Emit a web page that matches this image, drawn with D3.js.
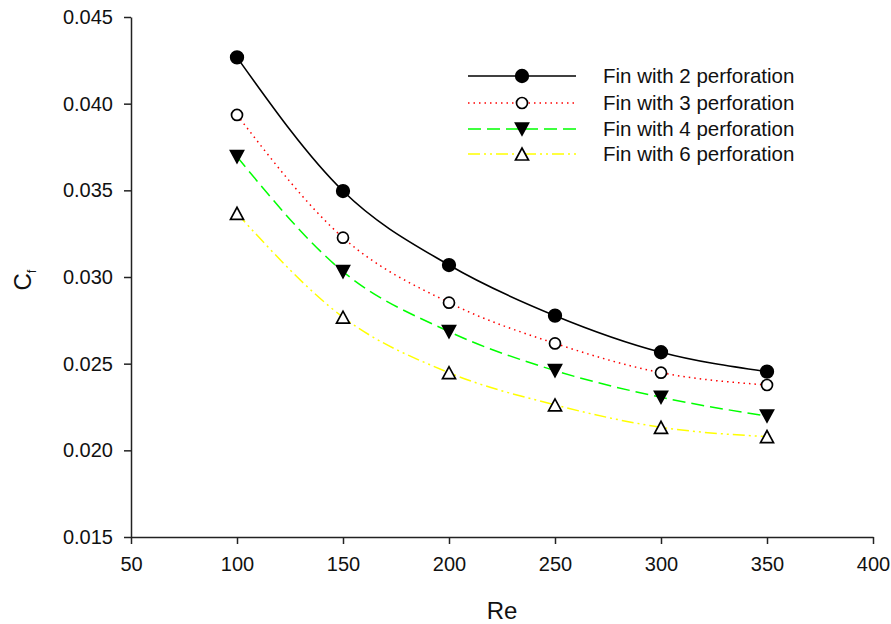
<!DOCTYPE html>
<html>
<head>
<meta charset="utf-8">
<script src="https://cdn.jsdelivr.net/npm/d3@7"></script>
<style>
  body { margin: 0; background: #fff; }
  svg { font-family: Arial, "Liberation Sans", sans-serif; }
</style>
</head>
<body>
<div id="chart"></div>
<script>
// data
var reValues = [100, 150, 200, 250, 300, 350];
var fin2 = [0.04267, 0.03496, 0.03069, 0.02777, 0.02566, 0.02454];
var fin3 = [0.03935, 0.03227, 0.02852, 0.02617, 0.02448, 0.02377];
var fin4 = [0.03694, 0.03031, 0.02685, 0.02460, 0.02306, 0.02198];
var fin6 = [0.03367, 0.02768, 0.02448, 0.02262, 0.02133, 0.02079];
var seriesNames = ["Fin with 2 perforation", "Fin with 3 perforation",
  "Fin with 4 perforation", "Fin with 6 perforation"];
var xTicks = [50, 100, 150, 200, 250, 300, 350, 400];
var yTicks = [0.015, 0.020, 0.025, 0.030, 0.035, 0.040, 0.045];

var width = 891, height = 624;
var margin = { top: 17, right: 18, bottom: 87, left: 131 };

// style for each series: line colour, dash, marker
var styles = [
  { color: "#000000", dash: null, marker: "circle", fill: "#000" },
  { color: "#ff0000", dash: "1.5,4", marker: "circle", fill: "#fff" },
  { color: "#00ff00", dash: "13,6", marker: "down", fill: "#000" },
  { color: "#ffff00", dash: "12,4,2,4,2,4", marker: "up", fill: "#fff" }
];

var allSeries = [fin2, fin3, fin4, fin6].map(function(vals, i) {
  return {
    name: seriesNames[i],
    style: styles[i],
    points: vals.map(function(v, j) { return { x: reValues[j], y: v }; })
  };
});

var svg = d3.select("#chart").append("svg")
  .attr("width", width)
  .attr("height", height);

var x = d3.scaleLinear().domain([50, 400]).range([margin.left, width - margin.right]);
var y = d3.scaleLinear().domain([0.015, 0.045]).range([height - margin.bottom, margin.top]);

// axes
var xAxis = svg.append("g")
  .attr("transform", "translate(0," + (height - margin.bottom) + ")")
  .call(d3.axisBottom(x).tickValues(xTicks).tickSize(7).tickPadding(13).tickSizeOuter(0));
var yAxis = svg.append("g")
  .attr("transform", "translate(" + margin.left + ",0)")
  .call(d3.axisLeft(y).tickValues(yTicks).tickFormat(d3.format(".3f")).tickSize(7).tickPadding(11).tickSizeOuter(0));

[xAxis, yAxis].forEach(function(ax) {
  ax.select(".domain").attr("stroke", "#222").attr("stroke-width", 1.5);
  ax.selectAll(".tick line").attr("stroke", "#222").attr("stroke-width", 1.5);
  ax.selectAll(".tick text").attr("fill", "#111").style("font-size", "20px")
    .style("font-family", "Arial, 'Liberation Sans', sans-serif");
});

// axis titles
svg.append("text")
  .attr("x", (margin.left + width - margin.right) / 2)
  .attr("y", 619)
  .attr("text-anchor", "middle")
  .style("font-size", "24px")
  .attr("fill", "#111")
  .text("Re");

var yTitle = svg.append("text")
  .attr("transform", "translate(31,280) rotate(-90)")
  .attr("text-anchor", "middle")
  .style("font-size", "24px")
  .attr("fill", "#111");
yTitle.append("tspan").text("C");
yTitle.append("tspan").attr("dy", 5).style("font-size", "13px").text("f");

// marker drawing
function drawMarker(g, type, fill, cx, cy) {
  if (type == "circle") {
    g.append("circle")
      .attr("cx", cx).attr("cy", cy)
      .attr("r", fill == "#000" ? 6.3 : 5.5)
      .attr("fill", fill)
      .attr("stroke", "#000")
      .attr("stroke-width", 1.7);
  } else {
    var hw = 6.5, hh = 6;
    var pts = type == "down"
      ? [[cx - hw, cy - hh], [cx + hw, cy - hh], [cx, cy + hh]]
      : [[cx - hw, cy + hh], [cx + hw, cy + hh], [cx, cy - hh]];
    g.append("path")
      .attr("d", "M" + pts.map(function(p) { return p.join(","); }).join("L") + "Z")
      .attr("fill", fill)
      .attr("stroke", "#000")
      .attr("stroke-width", 1.7)
      .attr("stroke-linejoin", "miter");
  }
}

var line = d3.line()
  .x(function(d) { return x(d.x); })
  .y(function(d) { return y(d.y); })
  .curve(d3.curveMonotoneX);

// lines
allSeries.forEach(function(s) {
  svg.append("path")
    .datum(s.points)
    .attr("d", line)
    .attr("fill", "none")
    .attr("stroke", s.style.color)
    .attr("stroke-width", s.style.dash ? 1.5 : 1.6)
    .attr("stroke-dasharray", s.style.dash);
});

// markers
var markers = svg.append("g");
allSeries.forEach(function(s) {
  s.points.forEach(function(p) {
    drawMarker(markers, s.style.marker, s.style.fill, x(p.x), y(p.y));
  });
});

// legend
var legend = svg.append("g");
var legY = [76, 103, 129, 154];
allSeries.forEach(function(s, i) {
  legend.append("line")
    .attr("x1", 468).attr("x2", 576)
    .attr("y1", legY[i]).attr("y2", legY[i])
    .attr("stroke", s.style.color)
    .attr("stroke-width", s.style.dash ? 1.5 : 1.6)
    .attr("stroke-dasharray", s.style.dash);
  drawMarker(legend, s.style.marker, s.style.fill, 522, legY[i]);
  legend.append("text")
    .attr("x", 603)
    .attr("y", legY[i] + 7)
    .style("font-size", "20.5px")
    .attr("fill", "#111")
    .text(s.name);
});
</script>
</body>
</html>
